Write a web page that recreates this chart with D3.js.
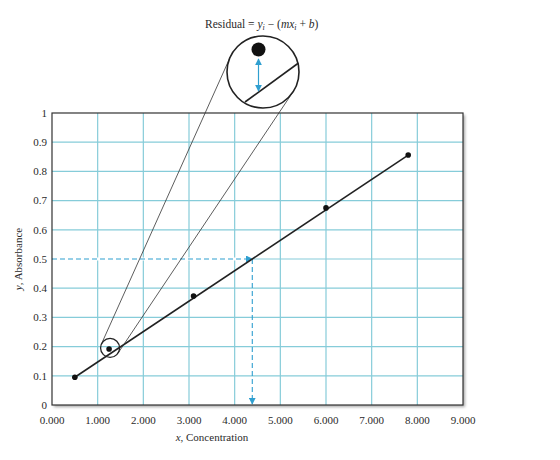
<!DOCTYPE html>
<html>
<head>
<meta charset="utf-8">
<script src="https://cdn.jsdelivr.net/npm/d3@7"></script>
<style>
  body { margin: 0; background: #fff; }
  text { font-family: "Liberation Serif", "Times New Roman", serif; fill: #2a2a2a; }
</style>
</head>
<body>
<script>
var width = 560;
var height = 460;

// calibration points
var concentration = [0.5, 1.25, 3.1, 6.0, 7.8];
var absorbance = [0.095, 0.192, 0.373, 0.675, 0.856];

// fitted line y = m x + b, drawn between first and last standard
var slope = 0.1042;
var intercept = 0.043;
var fitRange = [0.5, 7.8];

// unknown sample
var unknownY = 0.5;

var xTicks = [0, 1, 2, 3, 4, 5, 6, 7, 8, 9];
var yTicks = [0, 0.1, 0.2, 0.3, 0.4, 0.5, 0.6, 0.7, 0.8, 0.9, 1];

var plotLeft = 52, plotRight = 463, plotTop = 113, plotBottom = 405;

var x = d3.scaleLinear().domain([0, 9]).range([plotLeft, plotRight]);
var y = d3.scaleLinear().domain([0, 1]).range([plotBottom, plotTop]);

var gridColor = "#86ccd9";
var blue = "#2f9fd0";
var ink = "#222";

var svg = d3.select("body").append("svg")
  .attr("width", width)
  .attr("height", height);

var defs = svg.append("defs");
defs.append("filter").attr("id", "shadow")
  .attr("x", "-5%").attr("y", "-5%").attr("width", "115%").attr("height", "115%")
  .append("feDropShadow")
  .attr("dx", 2).attr("dy", 2).attr("stdDeviation", 1.5)
  .attr("flood-color", "#000").attr("flood-opacity", 0.35);

defs.append("marker").attr("id", "arrow")
  .attr("viewBox", "0 0 10 10").attr("refX", 9).attr("refY", 5)
  .attr("markerWidth", 7).attr("markerHeight", 7)
  .attr("markerUnits", "userSpaceOnUse")
  .attr("orient", "auto-start-reverse")
  .append("path").attr("d", "M0,0L10,5L0,10Z").attr("fill", blue);

// frame with shadow
svg.append("rect")
  .attr("x", plotLeft).attr("y", plotTop)
  .attr("width", plotRight - plotLeft).attr("height", plotBottom - plotTop)
  .attr("fill", "#fff")
  .attr("filter", "url(#shadow)");

// grid
svg.append("g").selectAll("line")
  .data(xTicks.filter(function(d) { return d > 0 && d < 9; }))
  .enter().append("line")
  .attr("x1", function(d) { return x(d); }).attr("x2", function(d) { return x(d); })
  .attr("y1", plotTop).attr("y2", plotBottom)
  .attr("stroke", gridColor).attr("stroke-width", 1.2);

svg.append("g").selectAll("line")
  .data(yTicks.filter(function(d) { return d > 0 && d < 1; }))
  .enter().append("line")
  .attr("x1", plotLeft).attr("x2", plotRight)
  .attr("y1", function(d) { return y(d); }).attr("y2", function(d) { return y(d); })
  .attr("stroke", gridColor).attr("stroke-width", 1.2);

// dashed read-off lines
var unknownX = (unknownY - intercept) / slope;
svg.append("rect")
  .attr("x", plotLeft + 1).attr("y", y(unknownY) - 1.5)
  .attr("width", x(unknownX) - plotLeft).attr("height", 3).attr("fill", "#fff");
svg.append("line")
  .attr("x1", x(0)).attr("y1", y(unknownY))
  .attr("x2", x(unknownX)).attr("y2", y(unknownY))
  .attr("stroke", blue).attr("stroke-width", 1.1)
  .attr("stroke-dasharray", "5,3")
  .attr("marker-end", "url(#arrow)");
svg.append("line")
  .attr("x1", x(unknownX)).attr("y1", y(unknownY))
  .attr("x2", x(unknownX)).attr("y2", y(0) - 1)
  .attr("stroke", blue).attr("stroke-width", 1.1)
  .attr("stroke-dasharray", "5,3")
  .attr("marker-end", "url(#arrow)");

// frame border
svg.append("rect")
  .attr("x", plotLeft).attr("y", plotTop)
  .attr("width", plotRight - plotLeft).attr("height", plotBottom - plotTop)
  .attr("fill", "none").attr("stroke", "#333").attr("stroke-width", 1.2);

// axes labels
svg.append("g").selectAll("text")
  .data(yTicks).enter().append("text")
  .attr("x", plotLeft - 5).attr("y", function(d) { return y(d); })
  .attr("dy", "0.35em").attr("text-anchor", "end")
  .attr("font-size", 11)
  .text(function(d) { return d3.format("~g")(d); });

svg.append("g").selectAll("text")
  .data(xTicks).enter().append("text")
  .attr("x", function(d) { return x(d); }).attr("y", plotBottom + 19)
  .attr("text-anchor", "middle")
  .attr("font-size", 11)
  .text(function(d) { return d3.format(".3f")(d); });

var xl = svg.append("text").attr("x", 212).attr("y", 441)
  .attr("text-anchor", "middle").attr("font-size", 11);
xl.append("tspan").attr("font-style", "italic").text("x");
xl.append("tspan").text(", Concentration");

var yl = svg.append("text")
  .attr("transform", "translate(22," + ((plotTop + plotBottom) / 2) + ") rotate(-90)")
  .attr("text-anchor", "middle").attr("font-size", 11);
yl.append("tspan").attr("font-style", "italic").text("y");
yl.append("tspan").text(", Absorbance");

// regression line
svg.append("line")
  .attr("x1", x(fitRange[0])).attr("y1", y(slope * fitRange[0] + intercept))
  .attr("x2", x(fitRange[1])).attr("y2", y(slope * fitRange[1] + intercept))
  .attr("stroke", ink).attr("stroke-width", 1.6);

// magnifier: small circle around the second standard, big circle above
var c1 = [x(concentration[1]) + 1, y(absorbance[1]) - 1], r1 = 9.5;
var c2 = [263, 72], r2 = 36;
var dx = c2[0] - c1[0], dy = c2[1] - c1[1];
var D = Math.sqrt(dx * dx + dy * dy);
var theta = Math.atan2(dy, dx);
var alpha = Math.acos((r2 - r1) / D);
[theta + alpha, theta - alpha].forEach(function(a) {
  var n = [Math.cos(a), Math.sin(a)];
  svg.append("line")
    .attr("x1", c1[0] - r1 * n[0]).attr("y1", c1[1] - r1 * n[1])
    .attr("x2", c2[0] - r2 * n[0]).attr("y2", c2[1] - r2 * n[1])
    .attr("stroke", "#333").attr("stroke-width", 0.8);
});

svg.append("circle")
  .attr("cx", c1[0]).attr("cy", c1[1]).attr("r", r1)
  .attr("fill", "none").attr("stroke", ink).attr("stroke-width", 1.3);

var big = svg.append("g");
big.append("circle")
  .attr("cx", c2[0]).attr("cy", c2[1]).attr("r", r2)
  .attr("fill", "#fff").attr("stroke", ink).attr("stroke-width", 1.6);
big.append("line")
  .attr("x1", 245).attr("y1", 102).attr("x2", 298.5).attr("y2", 63)
  .attr("stroke", ink).attr("stroke-width", 1.6);
big.append("circle")
  .attr("cx", 258.5).attr("cy", 49.5).attr("r", 7)
  .attr("fill", "#111");
big.append("line")
  .attr("x1", 258.5).attr("y1", 59).attr("x2", 258.5).attr("y2", 91)
  .attr("stroke", blue).attr("stroke-width", 1.2)
  .attr("marker-start", "url(#arrow)").attr("marker-end", "url(#arrow)");

// residual formula
var t = svg.append("text").attr("x", 205).attr("y", 28).attr("font-size", 11.5);
t.append("tspan").text("Residual = ");
t.append("tspan").attr("font-style", "italic").text("y");
t.append("tspan").attr("font-style", "italic").attr("font-size", 8).attr("dy", 2).text("i");
t.append("tspan").attr("dy", -2).text(" \u2212 (");
t.append("tspan").attr("font-style", "italic").text("mx");
t.append("tspan").attr("font-style", "italic").attr("font-size", 8).attr("dy", 2).text("i");
t.append("tspan").attr("dy", -2).text(" + ");
t.append("tspan").attr("font-style", "italic").text("b");
t.append("tspan").text(")");

// points
svg.append("g").selectAll("circle")
  .data(concentration).enter().append("circle")
  .attr("cx", function(d) { return x(d); })
  .attr("cy", function(d, i) { return y(absorbance[i]); })
  .attr("r", 2.8)
  .attr("fill", "#111");
</script>
</body>
</html>
